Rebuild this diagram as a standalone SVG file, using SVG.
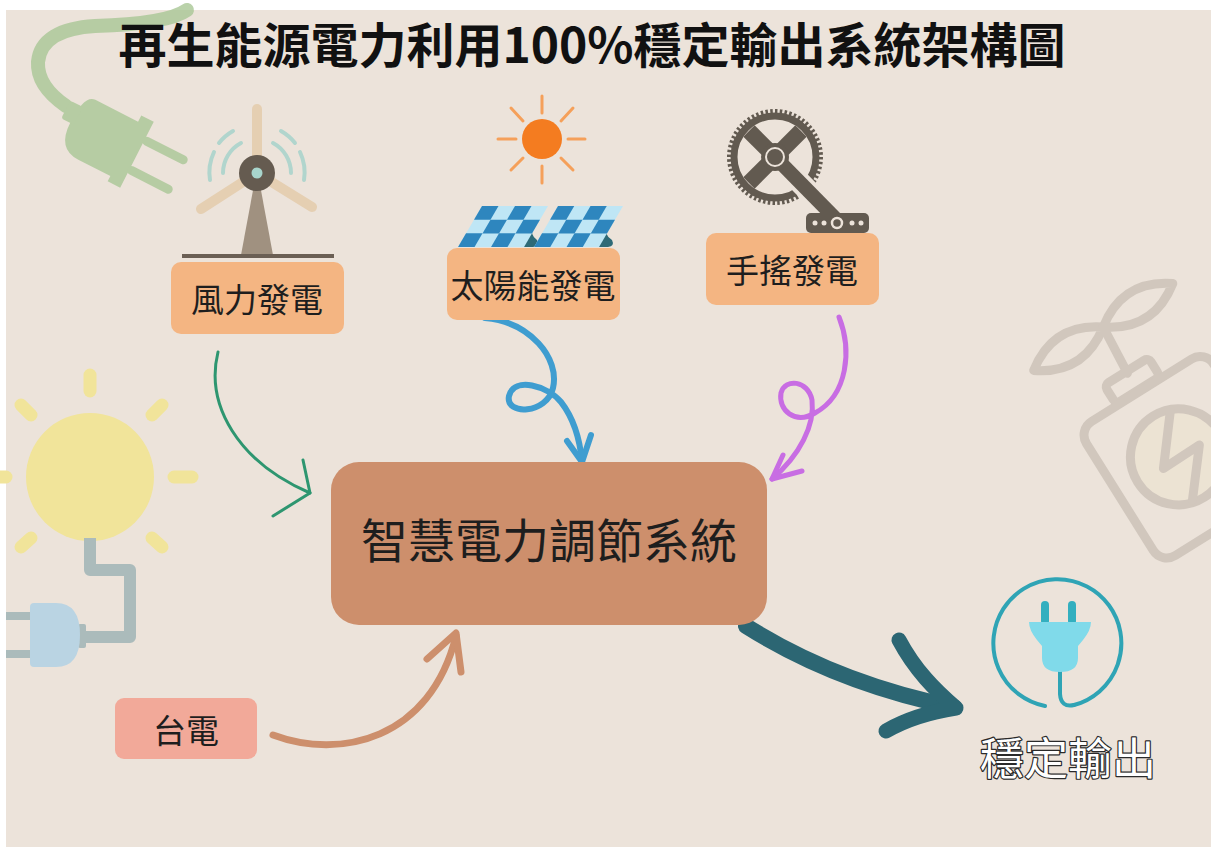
<svg xmlns="http://www.w3.org/2000/svg" width="1211" height="847" viewBox="0 0 1211 847">
  <defs>
    <style>
      .t { font-family: "Noto Sans CJK TC", "Noto Sans", sans-serif; fill: #1e1e1e; text-anchor: middle; dominant-baseline: central; }
      .src { fill: #F4B582; }
      .ln { fill: none; stroke-linecap: round; stroke-linejoin: round; }
      .deco { fill: none; stroke: #C8BEB4; stroke-width: 9; stroke-linecap: round; stroke-linejoin: round; }
    </style>
  </defs>

  <!-- page -->
  <rect x="0" y="0" width="1211" height="847" fill="#ffffff"/>
  <rect x="6" y="10" width="1205" height="837" fill="#ECE3DA"/>

  <!-- background ornaments -->
  <g id="deco-green-plug" opacity="0.8">
    <path d="M187,10 C170,22 130,25 95,26 C60,28 40,40 38,62 C37,80 50,95 66,106" fill="none" stroke="#A9C796" stroke-width="14" stroke-linecap="round"/>
    <g transform="translate(112,142) rotate(27)" fill="#A9C796">
      <path d="M-34,-30 L14,-30 L14,-37 L28,-37 L28,37 L14,37 L14,31 L-22,31 Q-46,31 -46,2 Q-46,-30 -34,-30 Z"/>
      <rect x="-56" y="-18" width="14" height="20" rx="3"/>
      <rect x="26" y="-21" width="50" height="9" rx="4.5"/>
      <rect x="26" y="12" width="50" height="9" rx="4.5"/>
    </g>
  </g>

  <g id="deco-bulb">
    <g stroke="#F1E49A" stroke-width="13" stroke-linecap="round">
      <line x1="90" y1="375" x2="90" y2="391"/>
      <line x1="21" y1="405" x2="31" y2="415"/>
      <line x1="162" y1="405" x2="152" y2="415"/>
      <line x1="174" y1="477" x2="192" y2="477"/>
      <line x1="-10" y1="477" x2="6" y2="477"/>
      <line x1="21" y1="547" x2="31" y2="538"/>
      <line x1="162" y1="547" x2="152" y2="538"/>
    </g>
    <circle cx="90" cy="477" r="64" fill="#F1E49A"/>
    <path d="M90,538 L90,570 L130,570 L130,637 L82,637" fill="none" stroke="#ABBBBB" stroke-width="12" stroke-linejoin="round"/>
    <rect x="6" y="612" width="26" height="8" fill="#ABBBBB"/>
    <rect x="6" y="650" width="26" height="8" fill="#ABBBBB"/>
    <rect x="78" y="624" width="8" height="24" rx="2" fill="#ABBBBB"/>
    <path d="M34,603 L56,603 Q80,603 80,635 Q80,667 56,667 L34,667 Q30,667 30,663 L30,607 Q30,603 34,603 Z" fill="#BAD4E3"/>
  </g>

  <g id="deco-sprout-battery" opacity="0.75">
    <g transform="translate(1078,430) rotate(-32)">
      <path class="deco" d="M-6,-74 Q35,-104 76,-74 Q35,-44 -6,-74 Z" fill="#E6E2D9"/>
      <path class="deco" d="M76,-74 Q117,-104 158,-74 Q117,-44 76,-74 Z" fill="#E4E3DA"/>
      <line class="deco" x1="72" y1="-22" x2="76" y2="-74"/>
      <rect class="deco" x="46" y="-24" width="52" height="22" rx="5"/>
      <rect class="deco" x="0" y="0" width="150" height="158" rx="16"/>
      <circle class="deco" cx="71" cy="76" r="48" style="fill:#EDE3D1"/>
      <path class="deco" d="M89,32 L52,78 L95,77 L60,120"/>
    </g>
  </g>

  <!-- source icons -->
  <g id="icon-wind">
    <g fill="none" stroke="#B1D5CD" stroke-width="4" stroke-linecap="round">
      <path d="M223,173 A34,34 0 0 1 241,143"/>
      <path d="M291,173 A34,34 0 0 0 273,143"/>
      <path d="M210,180 A48,48 0 0 1 214,152"/>
      <path d="M219,143 A48,48 0 0 1 233,131"/>
      <path d="M304,180 A48,48 0 0 0 300,152"/>
      <path d="M295,143 A48,48 0 0 0 281,131"/>
    </g>
    <path d="M254,185 L260,185 L273,255 L241,255 Z" fill="#A09180"/>
    <g stroke="#E5CFB2" stroke-width="10" stroke-linecap="round">
      <line x1="257" y1="173" x2="257" y2="109"/>
      <line x1="257" y1="173" x2="201" y2="209"/>
      <line x1="257" y1="173" x2="312" y2="207"/>
    </g>
    <circle cx="257" cy="173" r="18" fill="#655B50"/>
    <circle cx="257" cy="173" r="5.5" fill="#A8D5CC"/>
    <line x1="182" y1="256" x2="334" y2="256" stroke="#6B5F54" stroke-width="4"/>
  </g>

  <g id="icon-solar">
    <g stroke="#F5A05A" stroke-width="3" stroke-linecap="round">
      <line x1="542" y1="96" x2="542" y2="113"/>
      <line x1="542" y1="166" x2="542" y2="183"/>
      <line x1="498" y1="139" x2="516" y2="139"/>
      <line x1="568" y1="139" x2="585" y2="139"/>
      <line x1="511" y1="108" x2="523" y2="121"/>
      <line x1="573" y1="108" x2="561" y2="121"/>
      <line x1="511" y1="170" x2="523" y2="158"/>
      <line x1="573" y1="170" x2="561" y2="158"/>
    </g>
    <circle cx="542" cy="139" r="20" fill="#F47C20"/>
    <path d="M521,222 L532,222 Q530,236 537,240 Q540,246 533,247 L518,247 Z" fill="#2E6A77"/>
    <path d="M593,222 L606,222 Q604,236 612,240 Q615,246 608,247 L590,247 Z" fill="#2E6A77"/>
    <g transform="translate(482,206) skewX(-30.3)">
      <rect x="0" y="0" width="66" height="41" fill="#BFE6F5"/>
      <g fill="#2E86BE">
        <rect x="0" y="0" width="16.5" height="13.7"/><rect x="33" y="0" width="16.5" height="13.7"/>
        <rect x="16.5" y="13.7" width="16.5" height="13.7"/><rect x="49.5" y="13.7" width="16.5" height="13.7"/>
        <rect x="0" y="27.3" width="16.5" height="13.7"/><rect x="33" y="27.3" width="16.5" height="13.7"/>
      </g>
    </g>
    <g transform="translate(558,206) skewX(-30.3)">
      <rect x="0" y="0" width="65" height="41" fill="#BFE6F5"/>
      <g fill="#2E86BE">
        <rect x="0" y="0" width="16.25" height="13.7"/><rect x="32.5" y="0" width="16.25" height="13.7"/>
        <rect x="16.25" y="13.7" width="16.25" height="13.7"/><rect x="48.75" y="13.7" width="16.25" height="13.7"/>
        <rect x="0" y="27.3" width="16.25" height="13.7"/><rect x="32.5" y="27.3" width="16.25" height="13.7"/>
      </g>
    </g>
  </g>

  <g id="icon-crank">
    <circle cx="775" cy="157" r="44" fill="none" stroke="#625A50" stroke-width="8" stroke-dasharray="2.4 2.2"/>
    <circle cx="775" cy="157" r="41" fill="none" stroke="#625A50" stroke-width="7"/>
    <g stroke="#625A50" stroke-width="16" stroke-linecap="butt">
      <line x1="749" y1="131" x2="801" y2="183"/>
      <line x1="801" y1="131" x2="749" y2="183"/>
    </g>
    <line x1="775" y1="157" x2="836" y2="219" stroke="#ECE3DA" stroke-width="22"/>
    <line x1="775" y1="157" x2="836" y2="219" stroke="#625A50" stroke-width="14"/>
    <circle cx="775" cy="157" r="14" fill="#625A50"/>
    <circle cx="775" cy="157" r="9" fill="none" stroke="#ECE3DA" stroke-width="2"/>
    <rect x="806" y="213" width="63" height="20" rx="5" fill="#625A50"/>
    <g fill="#ECE3DA">
      <circle cx="815" cy="223" r="2.5"/><circle cx="824" cy="223" r="2.5"/>
      <circle cx="852" cy="223" r="2.5"/><circle cx="861" cy="223" r="2.5"/>
    </g>
    <circle cx="837" cy="223" r="5" fill="none" stroke="#ECE3DA" stroke-width="2.5"/>
  </g>

  <g id="icon-outlet">
    <path d="M1045,706 A64,64 0 1 1 1074,705" fill="none" stroke="#2FA4B5" stroke-width="4" stroke-linecap="round"/>
    <path d="M1060,668 L1060,694 Q1061,708 1074,705" fill="none" stroke="#2FA4B5" stroke-width="4" stroke-linecap="round"/>
    <rect x="1041" y="601" width="8" height="24" rx="4" fill="#33AFBF"/>
    <rect x="1068" y="601" width="8" height="24" rx="4" fill="#33AFBF"/>
    <path d="M1029,622 L1091,622 Q1091,630 1083,640 L1078,646 L1078,658 Q1078,672 1060,672 Q1042,672 1042,658 L1042,646 L1037,640 Q1029,630 1029,622 Z" fill="#80DAEA"/>
  </g>

  <!-- title -->
  <text class="t" x="592" y="42" font-size="48" font-weight="700" style="fill:#111">再生能源電力利用100%穩定輸出系統架構圖</text>

  <!-- connectors -->
  <g id="connectors">
    <path class="ln" d="M218,352 C205,405 238,462 310,493" stroke="#2E9670" stroke-width="3"/>
    <path class="ln" d="M303,460 L310,493 L273,516" stroke="#2E9670" stroke-width="3"/>

    <path class="ln" d="M485,318 C530,322 560,358 553,388 C547,414 505,416 509,396 C514,376 548,386 561,402 C575,420 580,440 582,462" stroke="#3F9DD0" stroke-width="6"/>
    <path class="ln" d="M567,441 L582,462 L591,435" stroke="#3F9DD0" stroke-width="6"/>

    <path class="ln" d="M839,317 C852,350 848,395 815,413 C795,425 778,410 781,393 C785,378 808,380 812,400 C815,425 800,455 772,479" stroke="#C86DE3" stroke-width="5"/>
    <path class="ln" d="M783,455 L772,479 L802,471" stroke="#C86DE3" stroke-width="5"/>

    <path class="ln" d="M273,735 C340,760 430,740 456,636" stroke="#CD8F6C" stroke-width="7"/>
    <path class="ln" d="M427,659 L456,633 L461,672" stroke="#CD8F6C" stroke-width="7"/>

    <path class="ln" d="M746,626 C800,660 870,690 954,707" stroke="#2C6673" stroke-width="16"/>
    <path class="ln" d="M899,640 C915,670 935,690 956,708 C930,712 905,720 886,731" stroke="#2C6673" stroke-width="15"/>
  </g>

  <!-- nodes -->
  <g id="node-wind">
    <rect class="src" x="171" y="262" width="173" height="72" rx="10"/>
    <text class="t" x="257" y="298" font-size="33">風力發電</text>
  </g>
  <g id="node-solar">
    <rect class="src" x="447" y="248" width="173" height="72" rx="10"/>
    <text class="t" x="533" y="284" font-size="33">太陽能發電</text>
  </g>
  <g id="node-crank">
    <rect class="src" x="706" y="233" width="173" height="72" rx="10"/>
    <text class="t" x="792" y="269" font-size="33">手搖發電</text>
  </g>
  <g id="node-regulator">
    <rect x="331" y="462" width="436" height="163" rx="28" fill="#CD8F6C"/>
    <text class="t" x="549" y="537" font-size="47">智慧電力調節系統</text>
  </g>
  <g id="node-grid">
    <rect x="115" y="698" width="142" height="61" rx="9" fill="#F2A999"/>
    <text class="t" x="186" y="729" font-size="33">台電</text>
  </g>
  <g id="node-output">
    <text class="t" x="1068" y="756" font-size="44" style="fill:#ffffff" stroke="#2a2a2a" stroke-width="2.4" stroke-linejoin="round" paint-order="stroke">穩定輸出</text>
  </g>
</svg>
